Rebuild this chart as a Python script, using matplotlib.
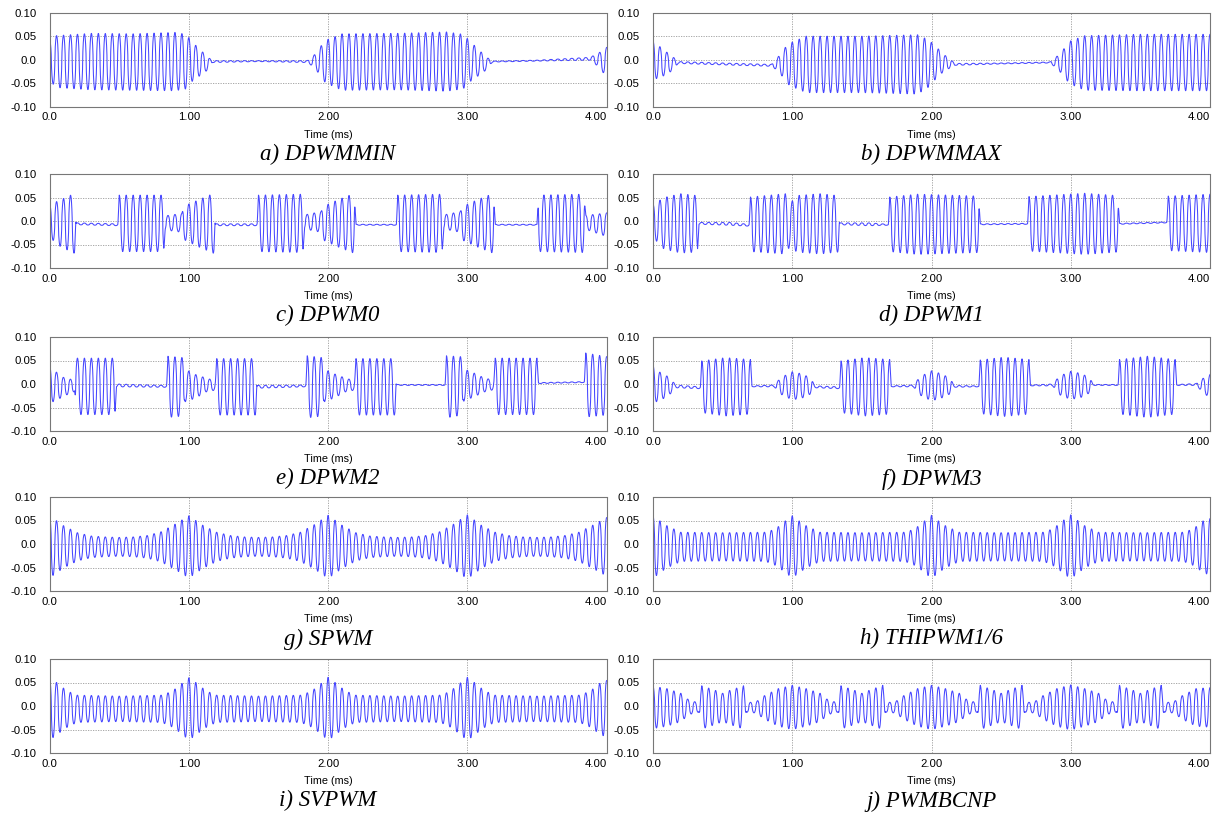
"""Ripple waveforms for ten PWM strategies (2 x 5 grid)."""
import matplotlib
matplotlib.use("Agg")
import matplotlib.pyplot as plt
import numpy as np

LINE_BLUE = "#4646ff"
GRID_GRAY = "#9a9a9a"

F_SW = 20.0  # cycles per ms

# ---- a) DPWMMIN ----
a_t = [0.00, 0.04, 0.30, 0.60, 0.90, 0.98, 1.03, 1.08, 1.13, 1.17, 1.50, 1.85, 1.89, 1.93,
       1.98, 2.10, 2.50, 2.85, 2.97, 3.03, 3.08, 3.13, 3.18, 3.50, 3.88, 3.93, 3.98, 4.00]
a_amp = [0.040, 0.055, 0.060, 0.060, 0.062, 0.058, 0.040, 0.028, 0.015, 0.002, 0.001, 0.002,
         0.010, 0.025, 0.045, 0.060, 0.060, 0.063, 0.058, 0.040, 0.028, 0.015, 0.001, 0.001,
         0.003, 0.012, 0.025, 0.030]
a_dc = [0.000, -0.004, -0.004, -0.005, -0.004, -0.004, -0.004, -0.006, -0.008, -0.004, -0.003,
        -0.004, -0.004, -0.003, -0.004, -0.005, -0.004, -0.004, -0.004, -0.004, -0.006, -0.008,
        -0.004, -0.002, 0.002, 0.000, -0.004, -0.004]

# ---- b) DPWMMAX ----
b_t = [0.00, 0.04, 0.09, 0.14, 0.18, 0.50, 0.85, 0.89, 0.93, 0.98, 1.10, 1.50, 1.90, 1.98,
       2.03, 2.08, 2.13, 2.17, 2.50, 2.85, 2.89, 2.94, 2.99, 3.10, 3.50, 4.00]
b_amp = [0.040, 0.035, 0.025, 0.015, 0.002, 0.002, 0.002, 0.012, 0.028, 0.045, 0.060, 0.060,
         0.063, 0.050, 0.035, 0.020, 0.010, 0.002, 0.001, 0.001, 0.010, 0.025, 0.045, 0.058,
         0.060, 0.060]
b_dc = [0.000, -0.005, -0.007, -0.008, -0.006, -0.009, -0.012, -0.010, -0.008, -0.010, -0.010,
        -0.010, -0.010, -0.008, -0.006, -0.007, -0.008, -0.010, -0.008, -0.006, -0.006, -0.006,
        -0.006, -0.007, -0.006, -0.006]

# ---- c) DPWM0 ----
c_t = [0.00, 0.08, 0.18, 0.19, 0.49, 0.50, 0.82, 0.83, 0.95, 0.96, 1.07, 1.18, 1.19, 1.49,
       1.50, 1.82, 1.83, 1.95, 1.96, 2.07, 2.19, 2.20, 2.49, 2.50, 2.82, 2.83, 2.95, 2.96,
       3.07, 3.19, 3.20, 3.50, 3.51, 3.84, 3.85, 4.00]
c_amp = [0.035, 0.050, 0.064, 0.002, 0.002, 0.060, 0.060, 0.015, 0.020, 0.035, 0.050, 0.064,
         0.002, 0.002, 0.060, 0.062, 0.015, 0.022, 0.035, 0.050, 0.064, 0.001, 0.001, 0.060,
         0.062, 0.015, 0.022, 0.035, 0.050, 0.064, 0.001, 0.001, 0.060, 0.062, 0.015, 0.025]
c_dc = [0.000, -0.005, -0.005, -0.006, -0.008, -0.005, -0.005, -0.004, -0.004, -0.004, -0.005,
        -0.005, -0.008, -0.008, -0.005, -0.005, -0.002, -0.002, -0.005, -0.005, -0.005, -0.008,
        -0.008, -0.005, -0.005, -0.002, -0.002, -0.005, -0.005, -0.005, -0.008, -0.008, -0.005,
        -0.005, -0.003, -0.008]

# ---- d) DPWM1 ----
d_t = [0.00, 0.08, 0.20, 0.32, 0.33, 0.55, 0.69, 0.70, 0.95, 0.99, 1.03, 1.20, 1.33, 1.34,
       1.55, 1.69, 1.70, 1.90, 2.34, 2.35, 2.69, 2.70, 3.10, 3.34, 3.35, 3.69, 3.70, 4.00]
d_amp = [0.035, 0.055, 0.063, 0.060, 0.002, 0.003, 0.002, 0.058, 0.064, 0.045, 0.060, 0.064,
         0.060, 0.002, 0.003, 0.001, 0.058, 0.064, 0.060, 0.001, 0.001, 0.058, 0.065, 0.060,
         0.001, 0.001, 0.058, 0.062]
d_dc = [0.000, -0.005, -0.005, -0.006, -0.005, -0.006, -0.009, -0.007, -0.006, -0.006, -0.006,
        -0.006, -0.006, -0.006, -0.007, -0.008, -0.007, -0.007, -0.007, -0.007, -0.006, -0.006,
        -0.006, -0.006, -0.006, -0.003, -0.005, -0.005]

# ---- e) DPWM2 ----
e_t = [0.00, 0.05, 0.10, 0.18, 0.19, 0.47, 0.48, 0.84, 0.85, 0.96, 0.97, 1.05, 1.12, 1.19,
       1.20, 1.48, 1.49, 1.84, 1.85, 1.96, 1.97, 2.05, 2.12, 2.19, 2.20, 2.48, 2.49, 2.84,
       2.85, 2.96, 2.97, 3.05, 3.12, 3.19, 3.20, 3.50, 3.51, 3.84, 3.85, 4.00]
e_amp = [0.040, 0.030, 0.020, 0.012, 0.060, 0.060, 0.003, 0.002, 0.065, 0.062, 0.035, 0.025,
         0.015, 0.010, 0.060, 0.060, 0.003, 0.002, 0.066, 0.062, 0.035, 0.025, 0.015, 0.010,
         0.060, 0.060, 0.001, 0.001, 0.066, 0.062, 0.035, 0.025, 0.015, 0.010, 0.060, 0.060,
         0.001, 0.001, 0.068, 0.062]
e_dc = [0.000, -0.005, -0.006, -0.004, -0.005, -0.005, -0.003, -0.005, -0.006, -0.006, -0.003,
        -0.005, -0.002, -0.003, -0.006, -0.006, -0.006, -0.004, -0.006, -0.006, -0.003, -0.004,
        -0.002, -0.003, -0.006, -0.006, -0.002, -0.002, -0.006, -0.004, -0.002, -0.002, -0.002,
        -0.002, -0.005, -0.005, 0.002, 0.004, -0.002, -0.004]

# ---- f) DPWM3 ----
f_t = [0.00, 0.05, 0.10, 0.14, 0.16, 0.34, 0.35, 0.52, 0.70, 0.71, 0.87, 0.92, 1.00, 1.08,
       1.14, 1.16, 1.34, 1.35, 1.52, 1.70, 1.71, 1.87, 1.92, 2.00, 2.08, 2.14, 2.16, 2.34,
       2.35, 2.52, 2.70, 2.71, 2.87, 2.92, 3.00, 3.08, 3.14, 3.16, 3.34, 3.35, 3.55, 3.75,
       3.76, 3.90, 3.95, 4.00]
f_amp = [0.040, 0.030, 0.022, 0.012, 0.003, 0.002, 0.055, 0.062, 0.058, 0.001, 0.002, 0.018,
         0.030, 0.025, 0.015, 0.002, 0.002, 0.055, 0.062, 0.058, 0.001, 0.002, 0.020, 0.032,
         0.025, 0.015, 0.002, 0.001, 0.057, 0.063, 0.058, 0.001, 0.002, 0.020, 0.030, 0.025,
         0.015, 0.001, 0.001, 0.058, 0.065, 0.058, 0.001, 0.002, 0.015, 0.025]
f_dc = [0.000, -0.005, -0.005, -0.005, -0.005, -0.008, -0.006, -0.006, -0.006, -0.005, -0.004,
        -0.004, -0.004, -0.004, -0.005, -0.006, -0.008, -0.006, -0.006, -0.006, -0.005, -0.004,
        -0.004, -0.004, -0.004, -0.005, -0.005, -0.005, -0.006, -0.006, -0.006, -0.003, -0.002,
        -0.003, -0.003, -0.003, -0.003, -0.002, -0.002, -0.006, -0.006, -0.006, -0.002, -0.001,
        -0.003, -0.005]

# ---- g) SPWM (envelope every 0.1 ms) ----
g_t = [round(0.1 * k, 1) for k in range(41)]
g_amp = [0.066, 0.045, 0.030, 0.023, 0.021, 0.020, 0.021, 0.024, 0.032, 0.048, 0.066,
         0.046, 0.031, 0.024, 0.021, 0.020, 0.021, 0.024, 0.031, 0.047, 0.067,
         0.046, 0.030, 0.023, 0.021, 0.020, 0.021, 0.024, 0.032, 0.048, 0.068,
         0.046, 0.031, 0.024, 0.021, 0.020, 0.021, 0.024, 0.031, 0.046, 0.062]
g_dc = [-0.006] * len(g_t)

# ---- h) THIPWM1/6 and i) SVPWM share breakpoints ----
hi_t = [0.00, 0.05, 0.10, 0.15, 0.20, 0.50, 0.80, 0.85, 0.90, 0.95,
        1.00, 1.05, 1.10, 1.15, 1.20, 1.50, 1.80, 1.85, 1.90, 1.95,
        2.00, 2.05, 2.10, 2.15, 2.20, 2.50, 2.80, 2.85, 2.90, 2.95,
        3.00, 3.05, 3.10, 3.15, 3.20, 3.50, 3.80, 3.85, 3.90, 3.95, 4.00]
h_amp = [0.067, 0.055, 0.045, 0.038, 0.031, 0.030, 0.031, 0.035, 0.043, 0.055,
         0.066, 0.055, 0.045, 0.038, 0.031, 0.030, 0.031, 0.035, 0.043, 0.055,
         0.067, 0.055, 0.045, 0.038, 0.031, 0.030, 0.031, 0.036, 0.045, 0.057,
         0.068, 0.056, 0.045, 0.038, 0.031, 0.030, 0.031, 0.035, 0.043, 0.055, 0.060]
h_dc = [-0.006] * len(hi_t)
i_amp = [0.066, 0.056, 0.044, 0.035, 0.029, 0.027, 0.029, 0.034, 0.042, 0.054,
         0.066, 0.056, 0.044, 0.035, 0.029, 0.027, 0.029, 0.034, 0.042, 0.054,
         0.067, 0.056, 0.044, 0.035, 0.029, 0.027, 0.029, 0.034, 0.043, 0.055,
         0.067, 0.056, 0.044, 0.035, 0.029, 0.027, 0.029, 0.034, 0.042, 0.054, 0.060]
i_dc = [-0.006] * len(hi_t)

# ---- j) PWMBCNP ----
j_t = [0.00, 0.10, 0.20, 0.26, 0.33, 0.35, 0.45, 0.50, 0.55, 0.65, 0.67, 0.74, 0.80, 0.90,
       1.00, 1.10, 1.20, 1.26, 1.33, 1.35, 1.45, 1.50, 1.55, 1.65, 1.67, 1.74, 1.80, 1.90,
       2.00, 2.10, 2.20, 2.26, 2.33, 2.35, 2.45, 2.50, 2.55, 2.65, 2.67, 2.74, 2.80, 2.90,
       3.00, 3.10, 3.20, 3.26, 3.33, 3.35, 3.45, 3.50, 3.55, 3.65, 3.67, 3.74, 3.80, 3.90, 4.00]
j_amp = [0.045, 0.040, 0.030, 0.015, 0.010, 0.046, 0.036, 0.030, 0.036, 0.046, 0.010, 0.012,
         0.025, 0.040, 0.047, 0.040, 0.030, 0.015, 0.010, 0.046, 0.036, 0.030, 0.036, 0.047,
         0.010, 0.012, 0.025, 0.040, 0.047, 0.040, 0.030, 0.015, 0.010, 0.047, 0.036, 0.030,
         0.036, 0.047, 0.010, 0.012, 0.025, 0.040, 0.048, 0.040, 0.030, 0.015, 0.010, 0.047,
         0.036, 0.030, 0.036, 0.047, 0.010, 0.012, 0.025, 0.040, 0.042]
j_dc = [-0.003] * len(j_t)

captions = ["a) DPWMMIN", "b) DPWMMAX", "c) DPWM0", "d) DPWM1", "e) DPWM2",
            "f) DPWM3", "g) SPWM", "h) THIPWM1/6", "i) SVPWM", "j) PWMBCNP"]
panels = [(a_t, a_amp, a_dc), (b_t, b_amp, b_dc), (c_t, c_amp, c_dc), (d_t, d_amp, d_dc),
          (e_t, e_amp, e_dc), (f_t, f_amp, f_dc), (g_t, g_amp, g_dc), (hi_t, h_amp, h_dc),
          (hi_t, i_amp, i_dc), (j_t, j_amp, j_dc)]

y_ticks = [0.10, 0.05, 0.0, -0.05, -0.10]
y_ticklabels = ["0.10", "0.05", "0.0", "-0.05", "-0.10"]
x_ticks = [0.0, 1.0, 2.0, 3.0, 4.0]
x_ticklabels = ["0.0", "1.00", "2.00", "3.00", "4.00"]

t = np.linspace(0.0, 4.0, 16001)
# slightly squared-off ripple shape (steep edges like the simulator trace)
cosw = np.cos(2 * np.pi * F_SW * t)
carrier = np.sign(cosw) * np.abs(cosw) ** 0.6

W, H = 1214, 814
fig = plt.figure(figsize=(W / 100, H / 100), dpi=100)
col_left = [49.6, 653.0]
row_top = [12.7, 174.0, 337.0, 497.0, 659.0]
ax_w, ax_h = 557.0, 94.0

for k, ((pt, pamp, pdc), cap) in enumerate(zip(panels, captions)):
    r, c = divmod(k, 2)
    ax = fig.add_axes([col_left[c] / W, 1 - (row_top[r] + ax_h) / H, ax_w / W, ax_h / H])
    y = np.interp(t, pt, pdc) + np.interp(t, pt, pamp) * carrier
    ax.plot(t, y, color=LINE_BLUE, lw=0.75)
    ax.set_xlim(0, 4.0)
    ax.set_ylim(-0.10, 0.10)
    ax.set_xticks(x_ticks)
    ax.set_xticklabels(x_ticklabels, family="Liberation Sans", fontsize=8.2)
    ax.set_yticks(y_ticks)
    ax.set_yticklabels(y_ticklabels, family="Liberation Sans", fontsize=8.2)
    ax.get_xticklabels()[-1].set_horizontalalignment("right")
    ax.tick_params(axis="x", length=0, pad=4)
    ax.tick_params(axis="y", length=0, pad=9.5)
    ax.grid(True, color=GRID_GRAY, ls=(0, (1.5, 1.5)), lw=0.6)
    for sp in ax.spines.values():
        sp.set_linestyle((0, (1.5, 1)))
        sp.set_color("#777777")
        sp.set_linewidth(0.8)
    ax.text(0.5, -0.30, "Time (ms)", transform=ax.transAxes, ha="center", va="center",
            family="Liberation Sans", fontsize=7.8)
    ax.text(0.5, -0.51, cap, transform=ax.transAxes, ha="center", va="center",
            family="Liberation Serif", style="italic", fontsize=16.5)

fig.savefig("out.png", dpi=100)
